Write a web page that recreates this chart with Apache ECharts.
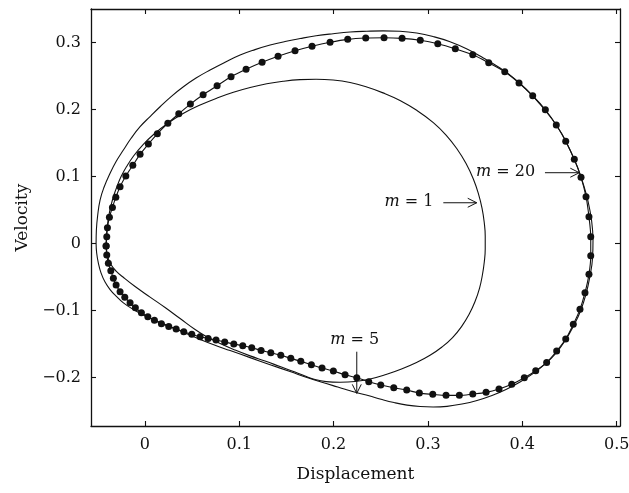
<!DOCTYPE html>
<html>
<head>
<meta charset="utf-8">
<script src="https://cdn.jsdelivr.net/npm/echarts@6/dist/echarts.min.js"></script>
<style>
  html, body { margin: 0; padding: 0; background: #fff; }
  #chart { width: 629px; height: 493px; }
</style>
</head>
<body>
<div id="chart"></div>
<script>
// Tick values on the two axes
const xTicks = [0, 0.1, 0.2, 0.3, 0.4, 0.5];
const yTicks = [-0.2, -0.1, 0, 0.1, 0.2, 0.3];

// Phase-plane orbits (displacement, velocity), traced clockwise from the leftmost point
const m1Curve = [
  [-0.0410,-0.0021],[-0.0407,0.0113],[-0.0397,0.0263],[-0.0380,0.0427],[-0.0357,0.0576],
  [-0.0327,0.0725],[-0.0293,0.0859],[-0.0251,0.1001],[-0.0193,0.1150],[-0.0119,0.1307],
  [-0.0018,0.1478],[0.0099,0.1635],[0.0233,0.1784],[0.0406,0.1941],[0.0586,0.2067],
  [0.0766,0.2172],[0.0939,0.2257],[0.1116,0.2328],[0.1292,0.2384],[0.1465,0.2422],
  [0.1645,0.2446],[0.1815,0.2452],[0.1995,0.2440],[0.2175,0.2403],[0.2352,0.2336],
  [0.2524,0.2249],[0.2704,0.2135],[0.2885,0.1985],[0.3057,0.1806],[0.3192,0.1620],
  [0.3305,0.1419],[0.3404,0.1195],[0.3481,0.0964],[0.3536,0.0740],[0.3573,0.0531],
  [0.3596,0.0322],[0.3607,0.0113],[0.3607,-0.0081],[0.3597,-0.0274],[0.3577,-0.0468],
  [0.3547,-0.0662],[0.3499,-0.0864],[0.3435,-0.1058],[0.3356,-0.1237],[0.3261,-0.1401],
  [0.3149,-0.1542],[0.3022,-0.1666],[0.2879,-0.1774],[0.2720,-0.1871],[0.2556,-0.1953],
  [0.2387,-0.2020],[0.2228,-0.2057],[0.2069,-0.2067],[0.1921,-0.2058],[0.1804,-0.2027],
  [0.1698,-0.1975],[0.1592,-0.1915],[0.1433,-0.1833],[0.1274,-0.1751],[0.1116,-0.1674],
  [0.0957,-0.1587],[0.0798,-0.1490],[0.0660,-0.1393],[0.0533,-0.1281],[0.0374,-0.1117],
  [0.0215,-0.0953],[0.0056,-0.0797],[-0.0103,-0.0640],[-0.0219,-0.0513],[-0.0304,-0.0410],
  [-0.0362,-0.0304],[-0.0394,-0.0185]
];

const m5Curve = [
  [-0.0516,0.0001],[-0.0513,0.0203],[-0.0500,0.0412],[-0.0474,0.0650],[-0.0431,0.0844],
  [-0.0368,0.1049],[-0.0304,0.1225],[-0.0227,0.1396],[-0.0145,0.1572],[-0.0050,0.1744],
  [0.0056,0.1896],[0.0162,0.2042],[0.0279,0.2194],[0.0409,0.2340],[0.0543,0.2470],
  [0.0692,0.2590],[0.0851,0.2706],[0.1010,0.2813],[0.1168,0.2894],[0.1328,0.2962],
  [0.1486,0.3015],[0.1645,0.3059],[0.1815,0.3100],[0.1995,0.3131],[0.2175,0.3156],
  [0.2352,0.3168],[0.2524,0.3174],[0.2704,0.3168],[0.2881,0.3141],[0.3054,0.3089],
  [0.3234,0.3012],[0.3414,0.2903],[0.3587,0.2769],[0.3764,0.2619],[0.3923,0.2455],
  [0.4060,0.2276],[0.4187,0.2082],[0.4314,0.1859],[0.4420,0.1635],[0.4505,0.1396],
  [0.4580,0.1158],[0.4643,0.0904],[0.4696,0.0635],[0.4733,0.0352],[0.4749,0.0054],
  [0.4744,-0.0215],[0.4717,-0.0483],[0.4675,-0.0752],[0.4617,-0.1005],[0.4542,-0.1229],
  [0.4458,-0.1438],[0.4357,-0.1632],[0.4240,-0.1796],[0.4113,-0.1938],[0.3976,-0.2064],
  [0.3827,-0.2176],[0.3679,-0.2266],[0.3520,-0.2340],[0.3361,-0.2393],[0.3202,-0.2427],
  [0.3054,-0.2437],[0.2916,-0.2430],[0.2779,-0.2408],[0.2641,-0.2370],[0.2503,-0.2321],
  [0.2376,-0.2270],[0.2249,-0.2223],[0.2122,-0.2172],[0.1995,-0.2118],[0.1868,-0.2064],
  [0.1751,-0.2012],[0.1539,-0.1908],[0.1328,-0.1805],[0.1116,-0.1700],[0.0904,-0.1595],
  [0.0724,-0.1505],[0.0586,-0.1428],[0.0427,-0.1334],[0.0268,-0.1238],[0.0127,-0.1155],
  [0.0003,-0.1077],[-0.0121,-0.0983],[-0.0230,-0.0879],[-0.0304,-0.0782],[-0.0368,-0.0685],
  [-0.0421,-0.0573],[-0.0463,-0.0439],[-0.0492,-0.0289],[-0.0510,-0.0140]
];

const m20Curve = [
  [-0.0410,-0.0036],[-0.0403,0.0103],[-0.0396,0.0237],[-0.0375,0.0392],[-0.0343,0.0541],
  [-0.0307,0.0691],[-0.0262,0.0849],[-0.0201,0.1008],[-0.0127,0.1168],[-0.0050,0.1332],
  [0.0038,0.1486],[0.0133,0.1639],[0.0244,0.1794],[0.0360,0.1938],[0.0483,0.2082],
  [0.0618,0.2221],[0.0766,0.2355],[0.0914,0.2490],[0.1073,0.2600],[0.1243,0.2704],
  [0.1412,0.2794],[0.1592,0.2877],[0.1772,0.2944],[0.1963,0.3003],[0.2150,0.3047],
  [0.2341,0.3067],[0.2535,0.3071],[0.2726,0.3062],[0.2919,0.3033],[0.3104,0.2982],
  [0.3290,0.2907],[0.3475,0.2818],[0.3644,0.2698],[0.3814,0.2564],[0.3965,0.2396],
  [0.4110,0.2206],[0.4244,0.1997],[0.4360,0.1769],[0.4460,0.1526],[0.4551,0.1257],
  [0.4622,0.0989],[0.4675,0.0700],[0.4706,0.0401],[0.4725,0.0103],[0.4725,-0.0180],
  [0.4706,-0.0458],[0.4664,-0.0732],[0.4611,-0.0980],[0.4540,-0.1204],[0.4460,-0.1423],
  [0.4364,-0.1602],[0.4258,-0.1771],[0.4142,-0.1896],[0.4021,-0.2000],[0.3888,-0.2099],
  [0.3753,-0.2169],[0.3616,-0.2218],[0.3475,-0.2243],[0.3333,-0.2263],[0.3192,-0.2263],
  [0.3051,-0.2248],[0.2909,-0.2229],[0.2775,-0.2184],[0.2638,-0.2149],[0.2500,-0.2109],
  [0.2373,-0.2060],[0.2246,-0.2000],[0.2122,-0.1956],[0.1998,-0.1900],[0.1878,-0.1856],
  [0.1765,-0.1806],[0.1653,-0.1756],[0.1547,-0.1711],[0.1441,-0.1666],[0.1335,-0.1627],
  [0.1232,-0.1592],[0.1133,-0.1553],[0.1038,-0.1523],[0.0943,-0.1498],[0.0847,-0.1468],
  [0.0755,-0.1438],[0.0671,-0.1413],[0.0586,-0.1389],[0.0498,-0.1353],[0.0413,-0.1314],
  [0.0332,-0.1274],[0.0254,-0.1234],[0.0176,-0.1195],[0.0102,-0.1144],[0.0032,-0.1090],
  [-0.0036,-0.1031],[-0.0100,-0.0956],[-0.0156,-0.0882],[-0.0212,-0.0801],[-0.0262,-0.0717],
  [-0.0304,-0.0618],[-0.0333,-0.0518],[-0.0360,-0.0404],[-0.0386,-0.0294],[-0.0403,-0.0170]
];

// Parameter values labelled on the plot
const massLabels = ['1', '5', '20'];

// ---- styling and layout ----
const FONT = '"DejaVu Serif", "Liberation Serif", serif';
const INK = '#111';
const X_RANGE = [-0.057, 0.5035];
const Y_RANGE = [-0.272, 0.35];

// Annotation placement in data units: text anchor, arrow tail and arrow tip
const annotationLayout = [
  { label: 0, text: [0.3057, 0.0625], align: 'right',  tail: [0.3163, 0.0610], tip: [0.3517, 0.0610] },
  { label: 1, text: [0.2225, -0.1438], align: 'center', tail: [0.2246, -0.1612], tip: [0.2246, -0.2233] },
  { label: 2, text: [0.4136, 0.1065], align: 'right',  tail: [0.4240, 0.1058], tip: [0.4604, 0.1058] }
];

const closeLoop = pts => pts.concat([pts[0]]);
const fmt = v => (v < 0 ? '\u2212' + String(Math.abs(v)) : String(v));

function frameAxis(extra) {
  return Object.assign({
    type: 'value',
    axisLine: { show: true, onZero: false, lineStyle: { color: INK, width: 1.3 } },
    splitLine: { show: false }
  }, extra);
}

const chart = echarts.init(document.getElementById('chart'), null, { renderer: 'canvas' });

const tickStyle = { color: INK, width: 1.1 };
const labelStyle = { fontFamily: FONT, fontSize: 16, color: INK };

chart.setOption({
  animation: false,
  backgroundColor: '#fff',
  grid: { left: 91, top: 9, right: 9, bottom: 67, outerBoundsMode: 'none' },
  xAxis: [
    frameAxis({
      position: 'bottom', min: X_RANGE[0], max: X_RANGE[1],
      axisTick: { show: true, inside: true, length: 5, customValues: xTicks, lineStyle: tickStyle },
      axisLabel: Object.assign({ customValues: xTicks, formatter: fmt, margin: 11 }, labelStyle),
      name: 'Displacement', nameLocation: 'middle', nameGap: 40,
      nameTextStyle: { fontFamily: FONT, fontSize: 17, color: INK }
    }),
    frameAxis({
      position: 'top', min: X_RANGE[0], max: X_RANGE[1],
      axisTick: { show: true, inside: true, length: 5, customValues: xTicks, lineStyle: tickStyle },
      axisLabel: { show: false }
    })
  ],
  yAxis: [
    frameAxis({
      position: 'left', min: Y_RANGE[0], max: Y_RANGE[1],
      axisTick: { show: true, inside: true, length: 5, customValues: yTicks, lineStyle: tickStyle },
      axisLabel: Object.assign({ customValues: yTicks, formatter: fmt, margin: 10 }, labelStyle),
      name: 'Velocity', nameLocation: 'middle', nameGap: 57,
      nameTextStyle: { fontFamily: FONT, fontSize: 17, color: INK }
    }),
    frameAxis({
      position: 'right', min: Y_RANGE[0], max: Y_RANGE[1],
      axisTick: { show: true, inside: true, length: 5, customValues: yTicks, lineStyle: tickStyle },
      axisLabel: { show: false }
    })
  ],
  series: [
    {
      name: 'm = ' + massLabels[0], type: 'line', data: closeLoop(m1Curve),
      xAxisIndex: 0, yAxisIndex: 0, symbol: 'none', smooth: 0.45,
      lineStyle: { color: INK, width: 1.1 }, z: 2
    },
    {
      name: 'm = ' + massLabels[1], type: 'line', data: closeLoop(m5Curve),
      xAxisIndex: 0, yAxisIndex: 0, symbol: 'none', smooth: 0.45,
      lineStyle: { color: INK, width: 1.1 }, z: 2
    },
    {
      name: 'm = ' + massLabels[2], type: 'line', data: closeLoop(m20Curve),
      xAxisIndex: 0, yAxisIndex: 0, symbol: 'circle', symbolSize: 7,
      showSymbol: true, showAllSymbol: true, smooth: 0.3,
      itemStyle: { color: INK, borderWidth: 0 },
      lineStyle: { color: INK, width: 1.1 }, z: 3
    }
  ]
});

// Labels with arrows pointing at each orbit
function px(pt) { return chart.convertToPixel({ xAxisIndex: 0, yAxisIndex: 0 }, pt); }

const graphics = [];
annotationLayout.forEach(a => {
  const t = px(a.text), p0 = px(a.tail), p1 = px(a.tip);
  graphics.push({
    type: 'text', x: t[0], y: t[1], z: 10,
    style: {
      text: '{i|m} = ' + massLabels[a.label],
      fontFamily: FONT, fontSize: 16, fill: INK,
      align: a.align, verticalAlign: 'middle',
      rich: { i: { fontFamily: FONT, fontSize: 16, fontStyle: 'italic', color: INK } }
    }
  });
  graphics.push({
    type: 'line', z: 10,
    shape: { x1: p0[0], y1: p0[1], x2: p1[0], y2: p1[1] },
    style: { stroke: INK, lineWidth: 1 }
  });
  const dx = p1[0] - p0[0], dy = p1[1] - p0[1], len = Math.hypot(dx, dy);
  const ux = dx / len, uy = dy / len, back = 9, half = 4.5;
  graphics.push({
    type: 'polyline', z: 10,
    shape: { points: [
      [p1[0] - back * ux - half * uy, p1[1] - back * uy + half * ux],
      [p1[0], p1[1]],
      [p1[0] - back * ux + half * uy, p1[1] - back * uy - half * ux]
    ] },
    style: { stroke: INK, lineWidth: 1, fill: null }
  });
});
chart.setOption({ graphic: graphics });
</script>
</body>
</html>
